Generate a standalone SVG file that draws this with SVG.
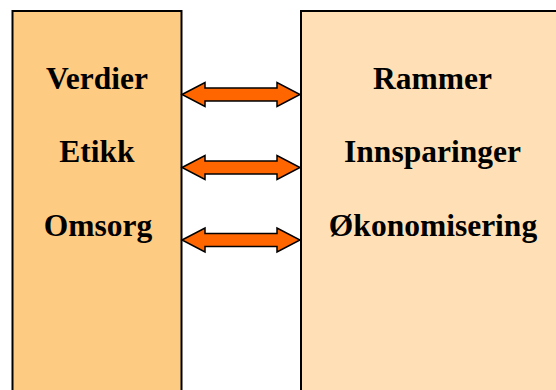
<svg xmlns="http://www.w3.org/2000/svg" width="556" height="390" viewBox="0 0 556 390">
<defs>
<style>
.lbl{font-family:"Liberation Serif","Times New Roman",serif;font-weight:bold;font-size:31.5px;fill:#000;text-anchor:middle}
.box{stroke:#000;stroke-width:2}
.arr{fill:#FF6600;stroke:#000;stroke-width:1.5;stroke-linejoin:miter}
</style>
<path id="dbl" d="M0,0 L23,-12 L23,-6.5 L95,-6.5 L95,-12 L118,0 L95,12 L95,6.5 L23,6.5 L23,12 Z"/>
</defs>
<rect width="556" height="390" fill="#fff"/>
<g id="left">
<rect class="box" x="12.5" y="11" width="169" height="390" fill="#FECB83"/>
<text class="lbl" x="97" y="89">Verdier</text>
<text class="lbl" x="97" y="162">Etikk</text>
<text class="lbl" x="98" y="236">Omsorg</text>
</g>
<g id="right">
<rect class="box" x="301" y="11" width="270" height="390" fill="#FFE0B6"/>
<text class="lbl" x="432.5" y="89">Rammer</text>
<text class="lbl" x="432.5" y="162">Innsparinger</text>
<text class="lbl" x="433" y="236">Økonomisering</text>
</g>
<g id="connectors">
<use href="#dbl" class="arr" x="182" y="94.5"/>
<use href="#dbl" class="arr" x="182" y="167.5"/>
<use href="#dbl" class="arr" x="182" y="240"/>
</g>
</svg>
